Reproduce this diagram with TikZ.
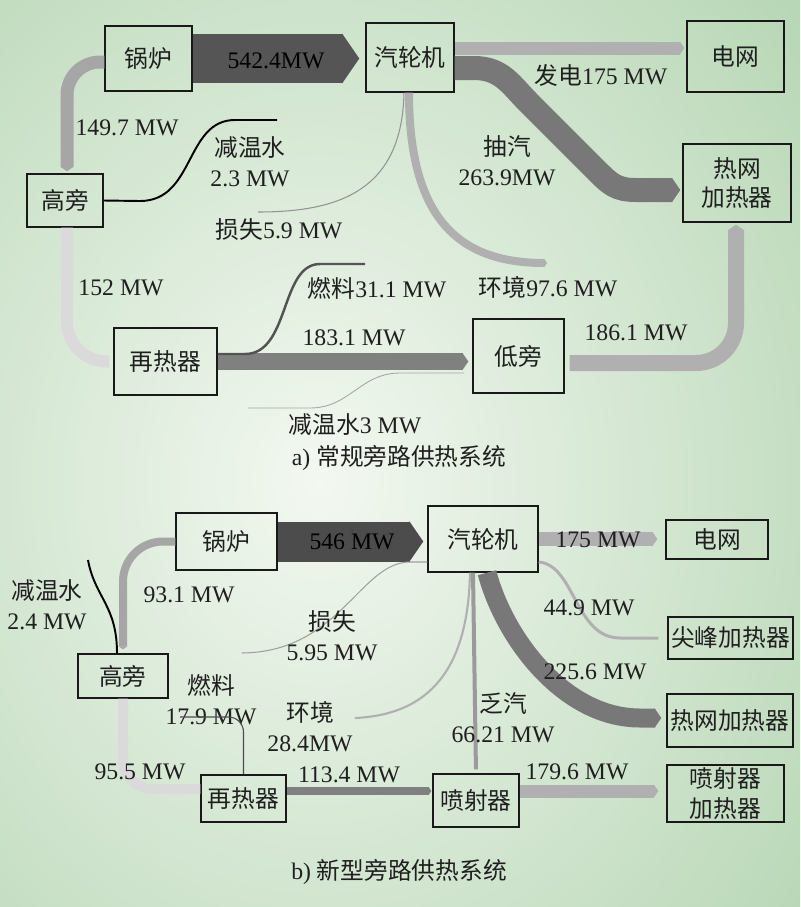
\documentclass[tikz,border=0pt]{standalone}
\usepackage{fontspec}
\setmainfont{Liberation Serif}
\newfontfamily\cjk{Noto Sans CJK SC}
\usepackage{tikz}
\usetikzlibrary{arrows.meta}

\definecolor{bgin}{HTML}{F3F8F1}
\definecolor{bgout}{HTML}{B6D6B4}
\definecolor{dkgray}{HTML}{555555}
\definecolor{dkgrayb}{HTML}{4C4C4C}
\definecolor{midgray}{HTML}{787878}
\definecolor{grayeighty}{HTML}{808080}
\definecolor{ltgray}{HTML}{B0B0B0}
\definecolor{grayhp}{HTML}{A6A6A6}
\definecolor{pale}{HTML}{DADADA}
\definecolor{exgray}{HTML}{9A9A9A}

\tikzset{
  box/.style={draw=black!90, line width=0.8pt, inner sep=0pt, align=center, text=black!88},
  sz/.style 2 args={minimum width=#1*0.2mm, minimum height=#2*0.2mm},
  lbl/.style={inner sep=0pt, align=center, text=black!88},
  band/.style={line width=#1*0.2mm},
  arr/.style={-{Triangle[length=0pt 0.35,width=0pt 1]}},
}

\begin{document}
\begin{tikzpicture}[x=0.2mm, y=-0.2mm, font=\fontsize{13.5}{17}\selectfont]
    % draw background
    \begin{scope}
      \clip (0,0) rectangle (800,907);
      \shade[inner color=bgin, outer color=bgout] (320,480) ellipse (640 and 760);
    \end{scope}
    \useasboundingbox (0,0) rectangle (800,907);

    % ---------- a) ----------
    % draw boxes
    \node[box, sz={87}{65}] (gl1) at (148.5,58.5) {\cjk 锅炉};
    \node[box, sz={88}{69}] (qj1) at (410,57.5) {\cjk 汽轮机};
    \node[box, sz={97}{71}] (dw1) at (735.5,56.5) {\cjk 电网};
    \node[box, sz={108}{78}] (rw1) at (737,183) {\cjk 热网\\\cjk 加热器};
    \node[box, sz={76}{53}] (gp1) at (65,200.5) {\cjk 高旁};
    \node[box, sz={103}{67}] (zr1) at (165.5,361.5) {\cjk 再热器};
    \node[box, sz={91}{74}] (dp1) at (518.5,356) {\cjk 低旁};

    % draw flows
    \draw[band=49, dkgray, arr, shorten >=1.2mm] (gl1.east) -- (gl1.east -| qj1.west);
    \draw[band=13, ltgray, arr, shorten >=0.4mm] ([yshift=1.9mm]qj1.east) -- ([yshift=1.9mm]qj1.east -| dw1.west);
    \draw[band=24, midgray, arr, shorten >=0.4mm] ([yshift=-2.1mm]qj1.east) -- (474,68)
      .. controls (502,68) and (511,85) .. (529,103) -- (596,170)
      .. controls (610,184) and (616,190) .. (636,190) -- ([yshift=-1.4mm]rw1.west);
    \draw[band=13, grayhp, arr, rounded corners=6.6mm, shorten >=0.4mm] ([yshift=-0.7mm]gl1.west) -| ([xshift=0.4mm]gp1.north);
    \draw[band=12, pale, rounded corners=8mm, shorten >=0.8mm] ([xshift=0.4mm]gp1.south) |- (zr1.west);
    \draw[band=17, grayeighty, arr, shorten >=0.8mm] (zr1.east) -- (zr1.east -| dp1.west);
    \draw[band=16, ltgray, arr, rounded corners=8mm, shorten <=1mm, shorten >=0.4mm] ([yshift=-1.4mm]dp1.east) -| ([xshift=-0.2mm]rw1.south);
    \coordinate (hj1) at (547,263);
    \draw[band=8, ltgray, arr] ([xshift=-0.2mm]qj1.south) .. controls (409,220) and (460,263) .. (hj1);

    % draw thin lines
    \coordinate (ss1) at (258,212);
    \draw[line width=0.6pt, gray!85] ([xshift=-1.2mm]qj1.south) .. controls (402,190) and (340,212) .. (ss1);
    \coordinate (jw1) at (277,120);
    \draw[line width=1.1pt, black] (gp1.east) -- (140,201) .. controls (195,201) and (185,120) .. (235,120) -- (jw1);
    \coordinate (rl1) at (365,264);
    \draw[line width=1.4pt, gray!65!black] ([yshift=1.5mm]zr1.east) -- (245,354) .. controls (290,354) and (280,264) .. (320,264) -- (rl1);
    \coordinate (jw3) at (248,408);
    \draw[line width=0.5pt, gray!70] ([xshift=-1.6mm, yshift=-3.4mm]dp1.west) -- (400,373) .. controls (360,373) and (350,408) .. (310,408) -- (jw3);

    % draw labels
    \node[lbl, text=black] (l542) at (276,61) {542.4MW};
    \node[lbl] (l1497) at (127,128) {149.7 MW};
    \node[lbl] (ljw1) at (250,162) {\cjk 减温水\\2.3 MW};
    \node[lbl] (lss1) at (279,230) {{\cjk 损失}5.9 MW};
    \node[lbl] (lfd) at (601,75) {{\cjk 发电}175 MW};
    \node[lbl] (lcq) at (507,161) {\cjk 抽汽\\263.9MW};
    \node[lbl] (l152) at (121,288) {152 MW};
    \node[lbl] (lrl1) at (377,288) {{\cjk 燃料}31.1 MW};
    \node[lbl] (lhj1) at (548,287) {{\cjk 环境}97.6 MW};
    \node[lbl] (l1831) at (354,338) {183.1 MW};
    \node[lbl] (l1861) at (636,333) {186.1 MW};
    \node[lbl] (ljw3) at (355,425) {{\cjk 减温水}3 MW};
    \node[lbl] (capa) at (399,458) {a) {\cjk 常规旁路供热系统}};

    % ---------- b) ----------
    % draw boxes
    \node[box, sz={101}{57}] (gl2) at (226.5,541.5) {\cjk 锅炉};
    \node[box, sz={110}{66}] (qj2) at (483,539) {\cjk 汽轮机};
    \node[box, sz={102}{39}] (dw2) at (717,539.5) {\cjk 电网};
    \node[box, sz={125}{42}] (jf2) at (730.5,638) {\cjk 尖峰加热器};
    \node[box, sz={126}{53}] (rw2) at (730,720.5) {\cjk 热网加热器};
    \node[box, sz={117}{57}] (pjr2) at (725.5,793.5) {\cjk 喷射器\\\cjk 加热器};
    \node[box, sz={90}{44}] (gp2) at (123,676) {\cjk 高旁};
    \node[box, sz={85}{47}] (zr2) at (243.5,798.5) {\cjk 再热器};
    \node[box, sz={86}{53}] (pj2) at (476,800.5) {\cjk 喷射器};

    % draw label under fuel line
    \node[lbl] (lrl2) at (211,700) {\cjk 燃料\\17.9 MW};

    % draw flows
    \draw[band=40, dkgrayb, arr, shorten >=0.8mm] (gl2.east) -- (gl2.east -| qj2.west);
    \draw[band=14, ltgray, arr, shorten >=1.6mm] (qj2.east) -- (qj2.east -| dw2.west);
    \draw[line width=1.7pt, ltgray, shorten >=1.8mm] ([yshift=-4.6mm]qj2.east) .. controls (575,565) and (575,638) .. (620,638) -- (jf2.west);
    \draw[band=19, midgray, arr, shorten >=1mm] ([xshift=0.8mm]qj2.south) .. controls (505,640) and (565,718) .. (640,718) -- ([yshift=0.5mm]rw2.west);
    \draw[band=4, exgray, shorten >=0.8mm] ([xshift=-2mm]qj2.south) -- (pj2.north);
    \draw[band=8, grayhp, arr, rounded corners=8mm, shorten >=0.8mm] (gl2.west) -| (gp2.north);
    \draw[band=10, pale, rounded corners=6mm] (gp2.south) |- ([yshift=1.9mm]zr2.west);
    \draw[band=8, grayeighty, arr, shorten >=0.2mm] ([yshift=1.5mm]zr2.east) -- ([yshift=1.5mm]zr2.east -| pj2.west);
    \draw[band=13, ltgray, arr, shorten >=1.6mm] ([yshift=1.9mm]pj2.east) -- ([yshift=1.9mm]pj2.east -| pjr2.west);

    % draw thin lines
    \coordinate (hj2) at (355,718);
    \draw[line width=1.2pt, ltgray] ([xshift=-2.6mm]qj2.south) .. controls (468,680) and (420,715) .. (hj2);
    \coordinate (ss2) at (242,653);
    \draw[line width=0.6pt, gray!75] ([yshift=-4.6mm]qj2.west) -- (410,562) .. controls (360,562) and (340,652) .. (ss2);
    \coordinate (jw2) at (88,560);
    \draw[line width=1.1pt, black] (jw2) .. controls (95,598) and (117,605) .. ([xshift=-1.2mm]gp2.north);
    \coordinate (rl2) at (180,717);
    \draw[line width=0.6pt, gray!60!black, rounded corners=3mm] (zr2.north) |- (rl2);

    % draw labels
    \node[lbl, text=black] (l546) at (352,542) {546 MW};
    \node[lbl] (l175) at (598,540) {175 MW};
    \node[lbl] (l449) at (589,608) {44.9 MW};
    \node[lbl] (l2256) at (595,672) {225.6 MW};
    \node[lbl] (lfq) at (503,718) {\cjk 乏汽\\66.21 MW};
    \node[lbl] (lhj2) at (310,727) {\cjk 环境\\28.4MW};
    \node[lbl] (lss2) at (332,636) {\cjk 损失\\5.95 MW};
    \node[lbl] (l931) at (189,595) {93.1 MW};
    \node[lbl] (ljw2) at (47,605) {\cjk 减温水\\2.4 MW};
    \node[lbl] (l955) at (140,772) {95.5 MW};
    \node[lbl] (l1134) at (349,775) {113.4 MW};
    \node[lbl] (l1796) at (577,772) {179.6 MW};
    \node[lbl] (capb) at (399,872) {b) {\cjk 新型旁路供热系统}};
\end{tikzpicture}
\end{document}
